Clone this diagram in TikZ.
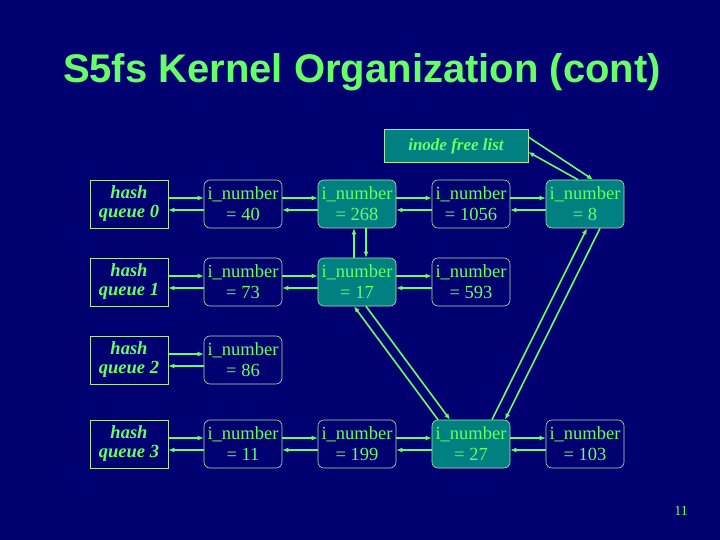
\documentclass[tikz,border=0pt]{standalone}
\usepackage{fontspec}
\setmainfont{Liberation Serif}
\newfontfamily\titlefont{Liberation Sans}
\usetikzlibrary{arrows.meta}
\definecolor{bgblue}{RGB}{0,0,112}
\definecolor{lgreen}{RGB}{102,255,102}
\definecolor{boxline}{RGB}{170,230,170}
\definecolor{tealfill}{RGB}{0,128,128}
\tikzset{
  inode/.style={draw=boxline, line width=0.6pt, rounded corners=6pt, minimum width=78pt,
    minimum height=48pt, inner sep=0pt, align=center, text=lgreen,
    font=\fontsize{18.5}{21}\selectfont},
  busy/.style={inode, fill=tealfill},
  hq/.style={draw=boxline, line width=0.6pt, minimum width=78pt, minimum height=48pt,
    inner sep=0pt, align=center, text=lgreen,
    font=\fontsize{18.5}{19}\selectfont\bfseries\itshape},
  lnk/.style={draw=lgreen, line width=1.6pt, -{Latex[length=6pt,width=5pt]}}
}
\begin{document}
\begin{tikzpicture}[x=1pt,y=-1pt]
	%background
	\fill[bgblue] (0,0) rectangle (720,540);
	
	%title
	\node[text=lgreen, font=\fontsize{40}{44}\selectfont\titlefont\bfseries] (title) at (362,72) {S5fs Kernel Organization (cont)};
	
	%free list
	\node[hq, fill=tealfill, minimum width=144pt, minimum height=33pt, font=\fontsize{17}{17}\selectfont\bfseries\itshape] (free) at (456,146) {inode free list};
	
	%hash queues
	\node[hq] (q0) at (129,204) {hash\\queue 0};
	\node[hq] (q1) at (129,282) {hash\\queue 1};
	\node[hq] (q2) at (129,360) {hash\\queue 2};
	\node[hq] (q3) at (129,444) {hash\\queue 3};
	
	%inodes
	\node[inode] (i40)   at (243,204) {i\_number\\= 40};
	\node[busy]  (i268)  at (357,204) {i\_number\\= 268};
	\node[inode] (i1056) at (471,204) {i\_number\\= 1056};
	\node[busy]  (i8)    at (585,204) {i\_number\\= 8};
	\node[inode] (i73)   at (243,282) {i\_number\\= 73};
	\node[busy]  (i17)   at (357,282) {i\_number\\= 17};
	\node[inode] (i593)  at (471,282) {i\_number\\= 593};
	\node[inode] (i86)   at (243,360) {i\_number\\= 86};
	\node[inode] (i11)   at (243,444) {i\_number\\= 11};
	\node[inode] (i199)  at (357,444) {i\_number\\= 199};
	\node[busy]  (i27)   at (471,444) {i\_number\\= 27};
	\node[inode] (i103)  at (585,444) {i\_number\\= 103};
	
	%hash chains
	\foreach \a/\b in {q0/i40,i40/i268,i268/i1056,i1056/i8,q1/i73,i73/i17,i17/i593,q2/i86,q3/i11,i11/i199,i199/i27,i27/i103}{
		\draw[lnk] ([yshift=6pt]\a.east) -- ([yshift=6pt]\b.west);
		\draw[lnk] ([yshift=-6pt]\b.west) -- ([yshift=-6pt]\a.east);
	}
	
	%free list chain
	\draw[lnk] ([yshift=9pt]free.east) -- ([xshift=8pt]i8.north);
	\draw[lnk] ([xshift=-7pt]i8.north) -- ([yshift=-6pt]free.east);
	\draw[lnk] ([xshift=15pt]i8.south) -- ([xshift=34pt]i27.north);
	\draw[lnk] ([xshift=21pt]i27.north) -- ([xshift=2pt]i8.south);
	\draw[lnk] ([xshift=9pt]i17.south) -- ([xshift=-21pt]i27.north);
	\draw[lnk] ([xshift=-33pt]i27.north) -- ([xshift=-3pt]i17.south);
	\draw[lnk] ([xshift=-3pt]i17.north) -- ([xshift=-3pt]i268.south);
	\draw[lnk] ([xshift=9pt]i268.south) -- ([xshift=9pt]i17.north);
	
	%page number
	\node[text=lgreen, font=\fontsize{14}{15}\selectfont] (page) at (681,511) {11};
\end{tikzpicture}
\end{document}
